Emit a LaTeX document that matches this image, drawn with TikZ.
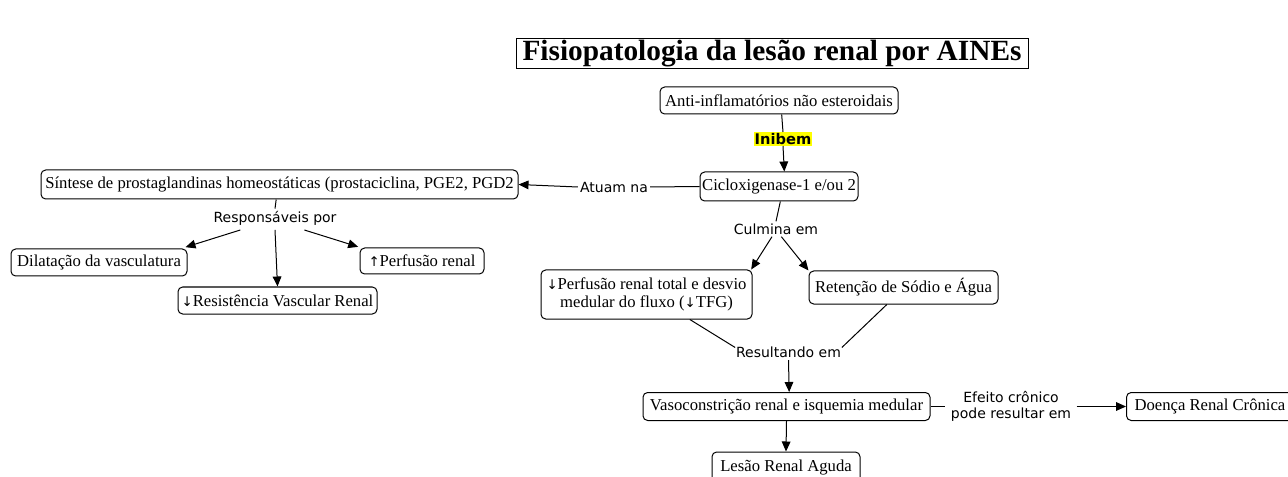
\documentclass[tikz,border=0pt]{standalone}
\usepackage{fontspec}
\setmainfont{Liberation Serif}
\newfontfamily\labfont{DejaVu Sans}
\usetikzlibrary{arrows.meta,calc}
\definecolor{hl}{HTML}{FFFF00}
\newcommand{\myarr}[1]{{\labfont\fontsize{10}{10}\selectfont #1}}
\begin{document}
\begin{tikzpicture}[x=0.75pt,y=-0.75pt,
 box/.style={draw,rounded corners=3.5pt,line width=0.75pt,font=\fontsize{12.5}{14}\selectfont,inner sep=1pt,align=center},
 lbl/.style={font=\labfont\fontsize{10.5}{12}\selectfont,inner sep=1.5pt,align=center},
 conn/.style={line width=0.75pt},
 arr/.style={conn,-{Triangle[length=7.5pt,width=6.5pt]}}]
\useasboundingbox (0,0) rectangle (1288,477);
\fill[white] (0,0) rectangle (1288,477);
% title
\node[draw,line width=0.75pt,inner sep=1pt,minimum width=384pt,minimum height=21.75pt,font=\bfseries\fontsize{22}{24}\selectfont] (title) at (772,53.5) {Fisiopatologia da lesão renal por AINEs};
% boxes
\node[box,minimum width=178.5pt,minimum height=20.25pt] (anti) at (779,100.5) {Anti-inflamatórios não esteroidais};
\node[box,minimum width=118.5pt,minimum height=21.75pt] (ciclo) at (779,186.5) {Cicloxigenase-1 e/ou 2};
\node[box,minimum width=357.75pt,minimum height=21.75pt] (sint) at (279.5,184.5) {Síntese de prostaglandinas homeostáticas (prostaciclina, PGE2, PGD2};
\node[box,minimum width=132pt,minimum height=20.25pt] (dil) at (99,262.5) {Dilatação da vasculatura};
\node[box,minimum width=93pt,minimum height=19.5pt] (perf) at (422,261) {\myarr{↑}Perfusão renal};
\node[box,minimum width=149.25pt,minimum height=20.25pt] (resist) at (277.5,300.5) {\myarr{↓}Resistência Vascular Renal};
\node[box,minimum width=158.25pt,minimum height=36.75pt] (perftot) at (646.5,294.5) {\myarr{↓}Perfusão renal total e desvio\\medular do fluxo (\myarr{↓}TFG)};
\node[box,minimum width=141.75pt,minimum height=24.75pt] (ret) at (903.5,287.5) {Retenção de Sódio e Água};
\node[box,minimum width=215.25pt,minimum height=21pt] (vaso) at (786.5,406.5) {Vasoconstrição renal e isquemia medular};
\node[box,anchor=west,minimum height=21pt,inner xsep=6pt] (doenca) at (1126,406.5) {Doença Renal Crônica\hspace*{14pt}};
\node[box,anchor=north,minimum width=111pt,minimum height=24pt] (lesao) at (786,451.5) {Lesão Renal Aguda};
% labels
\node[lbl,font=\labfont\bfseries\fontsize{11}{12}\selectfont,fill=hl,inner sep=0.8pt] (inibem) at (783,139) {Inibem};
\node[lbl] (atuam) at (614,187) {Atuam na};
\node[lbl] (resp) at (275,218) {Responsáveis por};
\node[lbl] (culm) at (776,229) {Culmina em};
\node[lbl] (result) at (788.5,352.5) {Resultando em};
\node[lbl,inner xsep=4pt] (efeito) at (1011,406.5) {Efeito crônico\\pode resultar em};
% connectors
\draw[conn] ([xshift=2pt]anti.south) -- (inibem.north);
\draw[arr] (inibem.south) -- ([xshift=4pt]ciclo.north);
\draw[conn] (ciclo.west) -- (atuam.east);
\draw[arr] (atuam.west) -- (sint.east);
\draw[conn] ([xshift=-2.5pt]sint.south) -- (resp.north);
\draw[arr] ([xshift=-26pt,yshift=-2pt]resp.south) -- ([xshift=-1.5pt,yshift=1pt]dil.north east);
\draw[arr] ([yshift=-2pt]resp.south) -- (resist.north);
\draw[arr] ([xshift=22pt,yshift=-2pt]resp.south) -- ([xshift=-1pt,yshift=0.5pt]perf.north west);
\draw[conn] ([xshift=1pt]ciclo.south) -- (culm.north);
\draw[arr] ([xshift=-3pt]culm.south) -- ([xshift=-1pt]perftot.north east);
\draw[arr] ([xshift=4pt]culm.south) -- (ret.north west);
\draw[conn] ([xshift=32.5pt]perftot.south) -- ([xshift=1pt,yshift=-2pt]result.north west);
\draw[conn] ([xshift=-12.5pt]ret.south) -- ([xshift=-1pt,yshift=-2pt]result.north east);
\draw[arr] (result.south) -- ([xshift=2pt]vaso.north);
\draw[conn] (vaso.east) -- (efeito.west);
\draw[arr] (efeito.east) -- (doenca.west);
\draw[arr] (vaso.south) -- (lesao.north);
\end{tikzpicture}
\end{document}
